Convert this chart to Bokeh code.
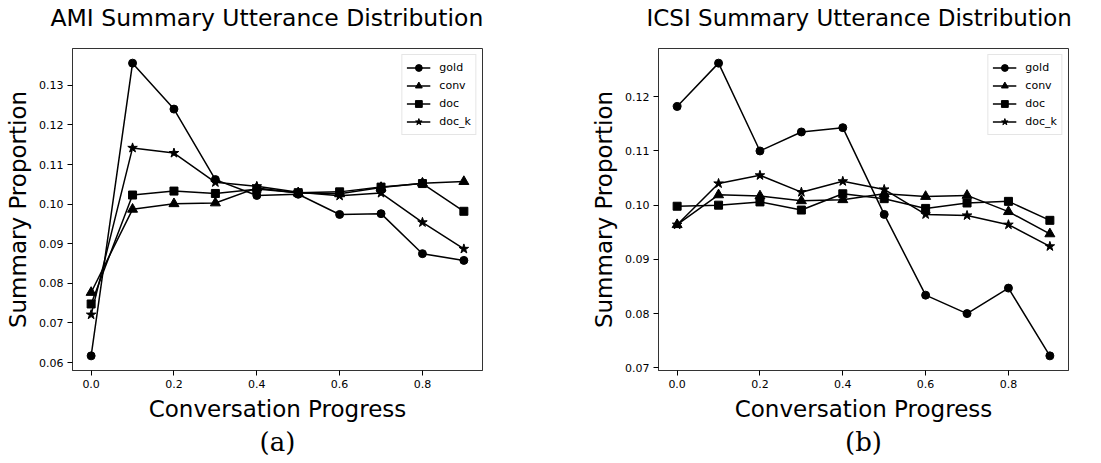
from bokeh.plotting import figure
from bokeh.layouts import row, column
from bokeh.models import FixedTicker, NumeralTickFormatter, Range1d, Legend, Title
from bokeh.core.properties import value
from bokeh.embed import file_html
from bokeh.resources import INLINE

progress = [0.0, 0.1, 0.2, 0.3, 0.4, 0.5, 0.6, 0.7, 0.8, 0.9]
series_names = ["gold", "conv", "doc", "doc_k"]
markers = ["circle", "triangle", "square", "star"]

ami_gold = [0.0617, 0.1356, 0.1240, 0.1062, 0.1022, 0.1025, 0.0974, 0.0976, 0.0875, 0.0858]
ami_conv = [0.0777, 0.0987, 0.1001, 0.1003, 0.1041, 0.1028, 0.1026, 0.1042, 0.1053, 0.1057]
ami_doc = [0.0748, 0.1023, 0.1033, 0.1027, 0.1038, 0.1029, 0.1031, 0.1043, 0.1052, 0.0982]
ami_doc_k = [0.0721, 0.1142, 0.1129, 0.1055, 0.1045, 0.1030, 0.1021, 0.1028, 0.0954, 0.0887]

icsi_gold = [0.1182, 0.1262, 0.1100, 0.1135, 0.1143, 0.0983, 0.0834, 0.0800, 0.0847, 0.0722]
icsi_conv = [0.0964, 0.1019, 0.1017, 0.1008, 0.1010, 0.1021, 0.1016, 0.1018, 0.0988, 0.0947]
icsi_doc = [0.0998, 0.1000, 0.1006, 0.0991, 0.1021, 0.1012, 0.0994, 0.1004, 0.1007, 0.0972]
icsi_doc_k = [0.0964, 0.1040, 0.1055, 0.1024, 0.1044, 0.1029, 0.0983, 0.0981, 0.0964, 0.0924]

ami_ticks = [0.06, 0.07, 0.08, 0.09, 0.10, 0.11, 0.12, 0.13]
icsi_ticks = [0.07, 0.08, 0.09, 0.10, 0.11, 0.12]
x_ticks = [0.0, 0.2, 0.4, 0.6, 0.8]

FONT = "DejaVu Sans"
SERIF = "DejaVu Serif"
TOP = 48


def make_title_strip(title, width, left, font_size):
    t = figure(width=width, height=TOP, output_backend="svg", toolbar_location=None,
               x_range=Range1d(0, width), y_range=Range1d(0, TOP),
               x_axis_location=None, y_axis_location=None,
               min_border=0, min_border_left=0, min_border_right=0,
               min_border_top=0, min_border_bottom=0)
    t.grid.visible = False
    t.outline_line_color = None
    t.text(x=[left], y=[TOP - 17], text=[title], text_font=value(FONT),
           text_font_size=font_size, text_color="black",
           text_align="left", text_baseline="middle")
    return t


def make_panel(caption, data, yticks, width, border_left, border_right):
    allv = [v for s in data for v in s]
    ymin, ymax = min(allv), max(allv)
    ypad = (ymax - ymin) * 0.05
    xpad = (max(progress) - min(progress)) * 0.05
    y0, y1 = ymin - ypad, ymax + ypad
    p = figure(width=width, height=463 - TOP, output_backend="svg", toolbar_location=None,
               x_range=Range1d(min(progress) - xpad, max(progress) + xpad),
               y_range=Range1d(y0, y1),
               min_border_left=border_left, min_border_right=border_right,
               min_border_top=0, min_border_bottom=93)
    p.grid.visible = False
    p.outline_line_color = "#333333"
    p.outline_line_width = 1
    p.background_fill_color = "white"
    p.border_fill_color = "white"

    p.xaxis.ticker = FixedTicker(ticks=x_ticks)
    p.yaxis.ticker = FixedTicker(ticks=yticks)
    p.xaxis.formatter = NumeralTickFormatter(format="0.0")
    p.yaxis.formatter = NumeralTickFormatter(format="0.00")
    p.xaxis.axis_label = "Conversation Progress"
    p.yaxis.axis_label = "Summary Proportion"
    for ax in (p.xaxis, p.yaxis):
        ax.axis_label_text_font = FONT
        ax.axis_label_text_font_size = "23px"
        ax.axis_label_text_font_style = "normal"
        ax.axis_label_text_color = "black"
        ax.major_label_text_font = FONT
        ax.major_label_text_font_size = "11px"
        ax.major_label_text_color = "black"
        ax.axis_line_color = "#333333"
        ax.major_tick_line_color = "black"
        ax.major_tick_out = 5
        ax.major_tick_in = 0
        ax.minor_tick_line_color = None
        ax.major_label_standoff = 4
        ax.axis_label_standoff = 5

    items = []
    for name, marker, vals in zip(series_names, markers, data):
        r1 = p.line(progress, vals, line_color="black", line_width=1.5)
        size = 8
        if marker == "triangle":
            size = 10
        elif marker == "star":
            size = 10
        r2 = p.scatter(progress, vals, marker=marker, size=size,
                       fill_color="black", line_color="black")
        items.append((name, [r1, r2]))
    legend = Legend(items=items, location="top_right")
    legend.label_text_font = FONT
    legend.label_text_font_size = "11px"
    legend.label_text_color = "black"
    legend.border_line_color = "#cccccc"
    legend.border_line_width = 1
    legend.margin = 6
    legend.padding = 4
    legend.spacing = 1
    legend.label_height = 17
    legend.glyph_height = 17
    legend.glyph_width = 24
    legend.label_standoff = 9
    p.add_layout(legend, "center")

    cap = Title(text=caption, align="center", text_font=SERIF, text_font_size="26px",
                text_font_style="normal", text_color="black", standoff=1)
    p.add_layout(cap, "below")
    return p


t1 = make_title_strip("AMI Summary Utterance Distribution", 550, 50, "23.5px")
t2 = make_title_strip("ICSI Summary Utterance Distribution", 551, 96, "23px")
p1 = make_panel("(a)", [ami_gold, ami_conv, ami_doc, ami_doc_k], ami_ticks, 550, 72, 68)
p2 = make_panel("(b)", [icsi_gold, icsi_conv, icsi_doc, icsi_doc_k], icsi_ticks, 551, 108, 33)

layout = column(row(t1, t2), row(p1, p2))
open("out.html", "w").write(file_html(layout, INLINE))
